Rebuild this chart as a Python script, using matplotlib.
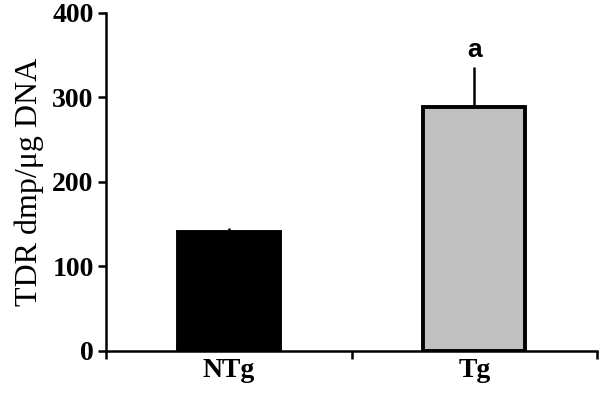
import matplotlib
matplotlib.use("Agg")
import matplotlib.pyplot as plt

groups = ["NTg", "Tg"]
values = [141, 289]
errors = [4, 47]
colors = ["black", "#c0c0c0"]
marks = ["", "a"]

plt.rcParams["font.family"] = "Liberation Serif"

fig = plt.figure(figsize=(6, 3.93), dpi=100)
ax = fig.add_axes([0.177, 0.107, 0.818, 0.86])

pos = [0.5, 1.5]
ax.bar(pos, values, width=0.415, color=colors, edgecolor="black", linewidth=2.8, zorder=2)
ax.errorbar(pos, values, yerr=[[0, 0], errors], fmt="none", ecolor="black",
            elinewidth=1.8, capsize=0, zorder=1)
for p, v, e, m in zip(pos, values, errors, marks):
    if m:
        ax.text(p, v + e + 6, m, ha="center", va="bottom", fontsize=19,
                fontweight="bold", family="Liberation Sans")

ax.set_xlim(0, 2)
ax.set_ylim(0, 400)
ax.set_yticks([0, 100, 200, 300, 400])
ax.set_xticks([0, 1, 2])
ax.set_xticklabels([])
ax.set_xticks(pos, minor=True)
ax.set_xticklabels(groups, minor=True)
ax.tick_params(axis="x", which="minor", length=0, pad=5, labelsize=20)
ax.tick_params(axis="x", which="major", direction="out", length=6, width=1.8)
ax.tick_params(axis="y", direction="out", length=6, width=1.8, labelsize=20, pad=3)
for lab in ax.get_yticklabels() + ax.get_xticklabels(minor=True):
    lab.set_fontweight("bold")

for s in ["top", "right"]:
    ax.spines[s].set_visible(False)
for s in ["left", "bottom"]:
    ax.spines[s].set_linewidth(1.8)

ax.set_ylabel("TDR dmp/\u03bcg DNA", fontsize=23, labelpad=6)

fig.savefig("out.png", dpi=100)
